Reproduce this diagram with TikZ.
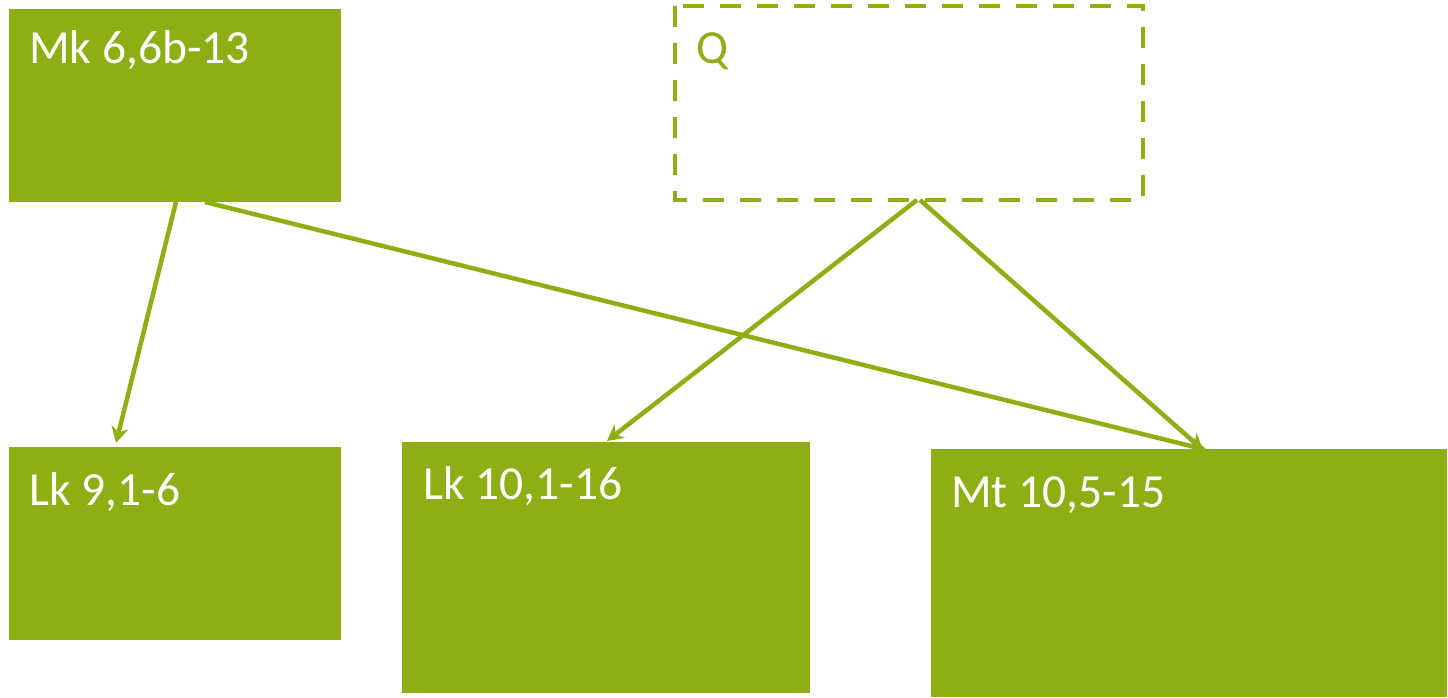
\documentclass[tikz,border=0pt]{standalone}
\usepackage{fontspec}
\setmainfont{Carlito}
\usetikzlibrary{arrows.meta}
\definecolor{leaf}{RGB}{141,175,19}
\tikzset{
  box/.style={fill=leaf, draw=none, inner sep=0pt, outer sep=0pt},
  qbox/.style={draw=leaf, line width=4.5pt, dash pattern=on 21pt off 16pt, inner sep=0pt, outer sep=0pt},
  lbl/.style={anchor=base west, inner sep=0pt, font=\fontsize{47.5}{52}\selectfont, text=white},
  conn/.style={draw=leaf, line width=4.5pt, -{Stealth[length=16pt, width=17pt, inset=5pt]}},
}
\begin{document}
\begin{tikzpicture}[x=1pt, y=-1pt]
\useasboundingbox (0,0) rectangle (1448,698);
% boxes
\path[box] (9,9) rectangle (341,202);
\coordinate (mkA) at (176,202);
\coordinate (mkB) at (205,202);
\draw[qbox] (675,6) rectangle (1143,200);
\coordinate (qA) at (917,200);
\coordinate (qB) at (920,200);
\path[box] (9,447) rectangle (341,640);
\coordinate (lk9) at (116,443);
\path[box] (402,442) rectangle (810,693);
\coordinate (lk10) at (607,441);
\path[box] (931,449) rectangle (1447,697);
\coordinate (mtA) at (1207,450);
\coordinate (mtB) at (1203,450);
% labels
\node[lbl] (tmk) at (29,64) {Mk 6,6b-13};
\node[lbl, text=leaf] (tq) at (696,64) {Q};
\node[lbl] (tlk9) at (29,505) {Lk 9,1-6};
\node[lbl] (tlk10) at (423,499) {Lk 10,1-16};
\node[lbl] (tmt) at (951,507) {Mt 10,5-15};
% connectors
\draw[conn] (mkA) -- (lk9);
\draw[conn] (mkB) -- (mtA);
\draw[conn] (qA) -- (lk10);
\draw[conn] (qB) -- (mtB);
\end{tikzpicture}
\end{document}
